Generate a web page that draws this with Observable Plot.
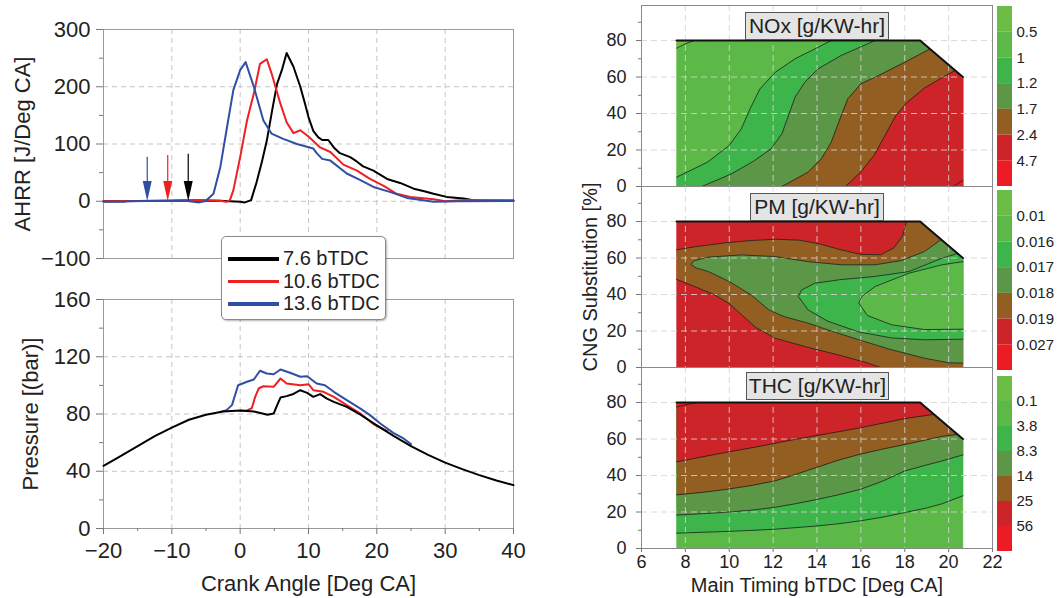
<!DOCTYPE html>
<html><head><meta charset="utf-8">
<script src="https://cdn.jsdelivr.net/npm/d3@7"></script>
<script src="https://cdn.jsdelivr.net/npm/@observablehq/plot@0.6"></script>
<style>
body{margin:0;background:#fff;}
#root{position:relative;width:1057px;height:598px;overflow:hidden;background:#fff;font-family:'Liberation Sans',Arial,Helvetica,sans-serif;}
</style></head><body><div id="root"></div>
<script>
// ---------------- DATA ----------------
const seriesNames = ["7.6 bTDC", "10.6 bTDC", "13.6 bTDC"];
const seriesColors = ["#000000", "#ee2024", "#2e4fa3"];
const injectionCA = [-7.6, -10.6, -13.6];
const arrowTop = [82, 80, 77];

// AHRR [J/Deg CA] vs crank angle
const ahrr76 = [[-20,0],[-10,1],[-7.6,1.5],[-3,1],[0,-1],[0.7,-2],[1.6,2],[2.4,33],[3.2,70],[3.9,106],[4.7,160],[5.4,205],[6.1,229],[6.8,259],[7.8,235],[8.8,200],[9.5,170],[10,147],[10.7,123],[11.4,112],[12,107],[12.9,107],[13.7,94],[14.6,84],[16.1,77],[17,70],[18,61],[19.5,53.5],[21.5,39],[23.4,32],[25.4,22],[26.8,18],[28.3,13],[30.2,7.6],[32.7,5],[34.1,1.7],[40,1.5]];
const ahrr106 = [[-20,0],[-10.6,1],[-6,2],[-3,1],[-2,-1],[-1.5,2],[-1,19],[0,77],[1,141],[2,188],[2.9,240],[3.9,248],[4.6,223],[5.9,170],[6.8,138],[7.8,119],[8.8,124],[10,113],[11.7,94],[13.2,86],[15.1,64],[17.1,53.5],[19,39],[21,27],[22.9,13],[24.9,7.6],[28.3,3.5],[30,0],[33,2],[40,1]];
const ahrr136 = [[-20,-1],[-17,-1],[-16.5,0],[-13.6,0.5],[-8,1],[-6,-2],[-5,0.5],[-4.9,2],[-3.9,13],[-2.9,60],[-2,124],[-1,194],[0,229],[0.8,243],[2,200],[3.4,141],[4.6,118],[6.3,109],[8.3,100],[10.7,92],[11.2,84],[12,74],[13.2,71],[15.6,48.5],[17.6,37],[19.5,25],[22,16],[24.4,5.8],[28.3,-1],[32,0],[40,0.5]];

// Pressure [bar] vs crank angle
const pres76 = [[-20,43.8],[-17.5,50.5],[-15,57.5],[-12.5,64.5],[-10,70.5],[-7.5,76],[-5,79.5],[-2.5,81.8],[0,82.5],[2,81.8],[4,79.5],[4.9,80.3],[5.4,86],[5.9,91.5],[6.8,92.5],[7.8,94],[8.8,96.6],[9.8,94.8],[10.7,92],[11.7,93.9],[12.7,90.8],[13.7,88.5],[15.6,85],[17.6,79.5],[20,72],[22.5,64.5],[25,57.5],[27.5,51.5],[30,46],[32.5,41.5],[35,37.3],[37.5,33.5],[40,30.3]];
const pres106 = [[0,82.3],[1,82.5],[1.7,84],[2.2,92],[2.7,97.8],[3.4,99.4],[4.9,99],[5.9,104.8],[6.8,101.3],[8.8,100.1],[10,100.8],[10.7,96.6],[12.2,95.5],[13.7,92],[15.6,86.2],[17.6,80.3],[19.5,73],[21.5,68]];
const pres136 = [[-3,81.3],[-2,82.7],[-1.2,86.2],[-0.3,100.1],[1,102.5],[2,104.1],[2.9,110.2],[3.9,108.3],[4.9,107.8],[5.9,111.1],[7.3,108.8],[8.8,106],[9.8,106.4],[11.2,101.3],[12.4,100.1],[13.7,95.5],[15.6,89.7],[17.6,83.8],[19,79.2],[20.5,73.4],[22.4,66.8],[23.9,62.9],[25,59]];

const caTicks = [-20,-10,0,10,20,30,40];
const caMinor = [-15,-5,5,15,25,35];
const caGrid = [-10,0,10,20,30];
const ahrrTicks = [-100,0,100,200,300];
const ahrrMinor = [-50,50,150,250];
const presTicks = [0,40,80,120,160];
const presMinor = [20,60,100,140];

// Contour maps: main timing bTDC [Deg CA] vs CNG substitution [%]
const bandColors = ["#6bbd46","#5cb947","#3db54a","#5b9747","#925e21","#cd2429","#ed1c24"];
const noxLevels = ["0.5","1","1.2","1.7","2.4","4.7"];
const pmLevels = ["0.01","0.016","0.017","0.018","0.019","0.027"];
const thcLevels = ["0.1","3.8","8.3","14","25","56"];
const mapDomain = [[7.6,0],[7.6,80],[18.7,80],[20.65,60],[20.65,0]];
const mapTopEdge = [[7.6,80],[18.7,80],[20.65,60]];
const timingTicks = [6,8,10,12,14,16,18,20,22];
const timingGrid = [8,10,12,14,16,18,20];
const cngTicks = [0,20,40,60,80];
const cngMinor = [10,30,50,70,90];
const cngGrid = [20,40,60,80];

// NOx contour lines
const noxA = [[7.6,75.8],[8.0,78.2],[8.4,80]];
const noxB = [[7.6,5.1],[9.0,13.3],[10.0,22.5],[10.55,31.6],[10.95,42.6],[11.4,53.5],[12.1,62.6],[13.0,70],[13.9,75.4],[14.65,80]];
const noxC = [[8.75,0],[10.1,6.9],[11.15,14.2],[11.9,20.6],[12.4,28.9],[12.7,38.9],[13.0,49],[13.45,57.2],[14.05,64.5],[15.1,71.8],[16.65,80]];
const noxD = [[12.4,0],[13.6,7.9],[14.2,15.2],[14.65,24.3],[15.05,37.1],[15.4,48],[16.0,56.3],[16.95,61.7],[18.0,68.1],[19.15,75.4]];
const noxE = [[15.3,0],[16.0,8],[16.6,17],[17.1,28],[17.6,39],[18.1,46],[18.9,54],[19.9,61],[20.3,63.6]];
const noxF = [[20.2,0],[20.65,3.3]];

// PM contour lines
const pmTop = [[7.6,64.5],[8.5,66.3],[9.8,68.3],[11,69.6],[12.1,70.3],[13.2,69.8],[14.1,67.8],[15.1,64.5],[16.0,62],[16.9,61.8],[17.5,65.5],[17.9,72],[18.08,80]];
const pmLow = [[7.6,48.3],[8.5,44],[9.3,40],[10.0,35],[10.6,28.5],[11.2,22],[12.1,16],[13.6,11],[15.1,6.5],[16.3,2.5],[16.9,0]];
const pmOlive = [[19.65,70],[18.9,63.6],[17.85,58.6],[16.65,56.3],[15.1,56.3],[13.6,58],[12.1,60.8],[10.55,61.7],[9.05,60.5],[8.4,58.5],[8.25,56.5],[8.5,54.5],[9.05,52.6],[10.0,47.1],[11.0,39.8],[11.8,31.6],[12.5,27.9],[13.6,24.3],[14.5,20.6],[15.9,15.2],[17.4,9.7],[18.9,5.1],[20.0,2.6],[20.65,2.4]];
const pmBright = [[20.42,62.5],[19.7,59.9],[18.2,52.6],[16.65,49.9],[15.1,48.2],[13.9,46.2],[13.3,42.5],[13.15,38.9],[13.6,31.5],[14.5,25.3],[15.9,19.5],[17.4,16.2],[18.9,15.2],[20.65,15.5]];
const pmLight = [[20.65,58],[19.7,56.3],[18.2,51.7],[16.65,44.4],[16.05,39],[15.9,35.3],[16.3,28.5],[17.4,23.4],[18.9,20.8],[20.65,21]];

// THC contour lines
const thcT0 = [[7.6,77.6],[8.1,79],[8.6,80]];
const thcT1 = [[7.6,47.5],[8.8,50.3],[10.0,53],[11.2,55.6],[12.3,58.2],[13.5,60.9],[14.7,63.4],[15.9,66],[17.0,68.7],[18.1,71.4],[19.33,73.5]];
const thcT2 = [[7.6,29.4],[8.8,30.8],[9.8,32.3],[11,34.5],[12.1,37.1],[13,40.5],[14,44.5],[15,48.5],[16,51.8],[17,54.5],[18,57],[19,59.6],[19.7,61.5],[20.42,62.5]];
const thcT3 = [[7.6,18.3],[8.8,19.1],[9.8,19.8],[11,21],[12.1,22.6],[13,24.5],[14.05,27],[15,29.5],[16,32.5],[17,37],[18,42.5],[19,45.8],[19.7,48],[20.65,51.3]];
const thcT4 = [[7.6,8.4],[8.8,8.9],[9.8,9.3],[11,9.9],[12.1,10.6],[13,11.4],[14.05,12.4],[15,13.6],[16,15.2],[17,17.2],[18,19.7],[19,22.2],[19.7,24.5],[20.65,28.9]];

// ---------------- DRAWING ----------------
const FONT = "'Liberation Sans', Arial, Helvetica, sans-serif";
const root = document.getElementById("root");
function place(el, left, top) {
  el.style.position = "absolute"; el.style.left = left + "px"; el.style.top = top + "px";
  root.appendChild(el);
}
const px = d => d[0], py = d => d[1];
const gridStyle = {stroke: "#c4c4c4", strokeOpacity: 1, strokeDasharray: "5,4"};
const headSymbol = {draw(ctx) { ctx.moveTo(-4.5, -10); ctx.lineTo(4.5, -10); ctx.lineTo(0, 10); ctx.closePath(); }};
const yLabel = (t, dx, fs) => Plot.text([t], {text: d => d, frameAnchor: "left", textAnchor: "middle", lineAnchor: "middle", dx, rotate: -90, fontSize: fs, fill: "#222"});
const xLabel = (t, dy, fs) => Plot.text([t], {text: d => d, frameAnchor: "bottom", textAnchor: "middle", lineAnchor: "middle", dy, fontSize: fs, fill: "#222"});

// Top-left: AHRR
const ahrrSeries = [ahrr76, ahrr106, ahrr136];
const topLeft = Plot.plot({
  width: 560, height: 280, marginLeft: 103, marginRight: 47, marginTop: 29, marginBottom: 22,
  style: {fontFamily: FONT, fontSize: "22px", color: "#222", background: "transparent", overflow: "visible"},
  x: {domain: [-20, 40], axis: null},
  y: {domain: [-100, 300]},
  marks: [
    Plot.gridX(caGrid, gridStyle),
    Plot.gridY([0, 100, 200], gridStyle),
    Plot.frame({stroke: "#9a9a9a"}),
    Plot.axisY(ahrrTicks, {tickSize: 7, tickPadding: 6, label: null, stroke: "#777"}),
    Plot.axisY(ahrrMinor, {tickSize: 4, tickFormat: () => "", label: null, stroke: "#777"}),
    ...ahrrSeries.map((s, i) => Plot.line(s, {x: px, y: py, stroke: seriesColors[i], strokeWidth: 2})),
    ...injectionCA.map((c, i) => Plot.ruleX([c], {y1: 20, y2: arrowTop[i], stroke: seriesColors[i], strokeWidth: 1.2})),
    ...injectionCA.map((c, i) => Plot.dot([c], {x: d => d, y: 18, symbol: headSymbol, fill: seriesColors[i], stroke: "none"})),
    yLabel("AHRR [J/Deg CA]", -81, 22)
  ]
});
place(topLeft, 0, 0);

// Bottom-left: Pressure
const presSeries = [pres76, pres106, pres136];
const bottomLeft = Plot.plot({
  width: 560, height: 318, marginLeft: 103, marginRight: 47, marginTop: 19, marginBottom: 70,
  style: {fontFamily: FONT, fontSize: "22px", color: "#222", background: "transparent", overflow: "visible"},
  x: {domain: [-20, 40]},
  y: {domain: [0, 160]},
  marks: [
    Plot.gridX(caGrid, gridStyle),
    Plot.gridY([40, 80, 120], gridStyle),
    Plot.frame({stroke: "#9a9a9a"}),
    Plot.axisY(presTicks, {tickSize: 7, tickPadding: 6, label: null, stroke: "#777"}),
    Plot.axisY(presMinor, {tickSize: 4, tickFormat: () => "", label: null, stroke: "#777"}),
    Plot.axisX(caTicks, {tickSize: 6, tickPadding: 8, label: null, stroke: "#777"}),
    Plot.axisX(caMinor, {tickSize: 3, tickFormat: () => "", label: null, stroke: "#777"}),
    ...[2, 1, 0].map(i => Plot.line(presSeries[i], {x: px, y: py, stroke: seriesColors[i], strokeWidth: 2})),
    yLabel("Pressure [(bar)]", -73, 22),
    xLabel("Crank Angle [Deg CA]", 55, 22)
  ]
});
place(bottomLeft, 0, 280);

// Legend
const leg = document.createElement("div");
leg.style.cssText = "width:165px;height:84px;box-sizing:border-box;border:1px solid #8a8a8a;border-radius:5px;background:#fff;box-shadow:1px 1px 2px rgba(0,0,0,0.3);";
seriesNames.forEach((n, i) => {
  const c = 22 + 22.5 * i;
  const ln = document.createElement("div");
  ln.style.cssText = `position:absolute;left:6px;top:${c - 2}px;width:51px;height:3.5px;background:${seriesColors[i]};`;
  const tx = document.createElement("div");
  tx.textContent = n;
  tx.style.cssText = `position:absolute;left:61px;top:${c - 12}px;height:24px;line-height:24px;font:20px ${FONT};color:#222;white-space:nowrap;`;
  leg.appendChild(ln); leg.appendChild(tx);
});
place(leg, 221, 236);

// Right: contour panels
function contourPanel({regions, lines, height, marginTop, marginBottom, xAxis, extra}) {
  return Plot.plot({
    width: 440, height, marginLeft: 81, marginRight: 8, marginTop, marginBottom,
    style: {fontFamily: FONT, fontSize: "18px", color: "#222", background: "transparent", overflow: "visible"},
    x: xAxis ? {domain: [6, 22]} : {domain: [6, 22], axis: null},
    y: {domain: [0, 99.2]},
    marks: [
      ...regions.map(r => Plot.line(r.pts, {x: px, y: py, fill: bandColors[r.band], stroke: bandColors[r.band], strokeWidth: 0.5})),
      Plot.gridX(timingGrid, {stroke: "#d4d4d4", strokeOpacity: 0.85, strokeDasharray: "6,4"}),
      Plot.gridY(cngGrid, {stroke: "#d4d4d4", strokeOpacity: 0.85, strokeDasharray: "6,4"}),
      ...lines.map(l => Plot.line(l, {x: px, y: py, stroke: "#1a1a1a", strokeWidth: 0.9, strokeOpacity: 0.85})),
      Plot.line(mapTopEdge, {x: px, y: py, stroke: "#111", strokeWidth: 2}),
      Plot.frame({stroke: "#8a8a8a"}),
      Plot.axisY(cngTicks, {tickSize: 5, tickPadding: 10, label: null, stroke: "#777"}),
      Plot.axisY(cngMinor, {tickSize: 3, tickFormat: () => "", label: null, stroke: "#777"}),
      ...(xAxis ? [
        Plot.axisX(timingTicks, {tickSize: 4, tickPadding: 3, label: null, stroke: "#777"}),
        xLabel("Main Timing bTDC [Deg CA]", 37, 20)
      ] : []),
      ...(extra || [])
    ]
  });
}
const rev = a => a.slice().reverse();

const noxPanel = contourPanel({
  height: 186, marginTop: 5, marginBottom: 0,
  regions: [
    {pts: mapDomain, band: 1},
    {pts: [...noxA, [7.6,80]], band: 0},
    {pts: [...noxB, [18.7,80],[20.65,60],[20.65,0],[7.6,0]], band: 2},
    {pts: [...noxC, [18.7,80],[20.65,60],[20.65,0]], band: 3},
    {pts: [...noxD, [20.65,60],[20.65,0]], band: 4},
    {pts: [...noxE, [20.65,60],[20.65,0]], band: 5},
    {pts: [...noxF, [20.65,0]], band: 6}
  ],
  lines: [noxA, noxB, noxC, noxD, noxE, noxF]
});
place(noxPanel, 560, 0);

const pmPanel = contourPanel({
  height: 181, marginTop: 0, marginBottom: 0,
  regions: [
    {pts: mapDomain, band: 5},
    {pts: [...pmTop, [18.7,80],[20.65,60],[20.65,0], ...rev(pmLow)], band: 4},
    {pts: [...pmOlive, [20.65,60]], band: 3},
    {pts: [...pmBright, [20.65,60]], band: 2},
    {pts: pmLight, band: 1}
  ],
  lines: [pmTop, pmLow, pmOlive, pmBright, pmLight],
  extra: [yLabel("CNG Substitution [%]", -51, 20)]
});
place(pmPanel, 560, 186);

const thcPanel = contourPanel({
  height: 231, marginTop: 0, marginBottom: 50, xAxis: true,
  regions: [
    {pts: mapDomain, band: 1},
    {pts: [...thcT4, [20.65,60],[18.7,80],[7.6,80]], band: 2},
    {pts: [...thcT3, [20.65,60],[18.7,80],[7.6,80]], band: 3},
    {pts: [...thcT2, [18.7,80],[7.6,80]], band: 4},
    {pts: [...thcT1, [18.7,80],[7.6,80]], band: 5},
    {pts: [...thcT0, [7.6,80]], band: 6}
  ],
  lines: [thcT0, thcT1, thcT2, thcT3, thcT4]
});
place(thcPanel, 560, 367);

// Title boxes
function titleBox(text, left, top, width, height) {
  const d = document.createElement("div");
  d.textContent = text;
  d.style.cssText = `width:${width}px;height:${height}px;box-sizing:border-box;border:1.5px solid #555;background:#e4e4e4;font:21px ${FONT};color:#222;text-align:center;line-height:${height - 3}px;white-space:nowrap;`;
  place(d, left, top);
}
titleBox("NOx [g/KW-hr]", 745, 12, 144, 28);
titleBox("PM [g/KW-hr]", 750, 193, 134, 28);
titleBox("THC [g/KW-hr]", 746, 372, 143, 28);

// Colour bars
function colorBar(levels, top, height) {
  const bands = bandColors.map((c, i) => ({i, c}));
  const labs = levels.map((t, i) => ({i: i + 1, t}));
  const p = Plot.plot({
    width: 67, height, marginLeft: 7, marginRight: 45, marginTop: 0, marginBottom: 0,
    style: {fontFamily: FONT, fontSize: "15px", color: "#222", background: "transparent", overflow: "visible"},
    x: {domain: [0, 1], axis: null},
    y: {domain: [0, 7], reverse: true, axis: null},
    marks: [
      Plot.rect(bands, {x1: 0, x2: 1, y1: d => d.i, y2: d => d.i + 1, fill: d => d.c}),
      Plot.text(labs, {x: 1, y: d => d.i, text: d => d.t, textAnchor: "start", dx: 4, fontSize: 15, fill: "#222"})
    ]
  });
  place(p, 990, top);
}
colorBar(noxLevels, 6, 180);
colorBar(pmLevels, 190, 180);
colorBar(thcLevels, 376, 175);
</script></body></html>
